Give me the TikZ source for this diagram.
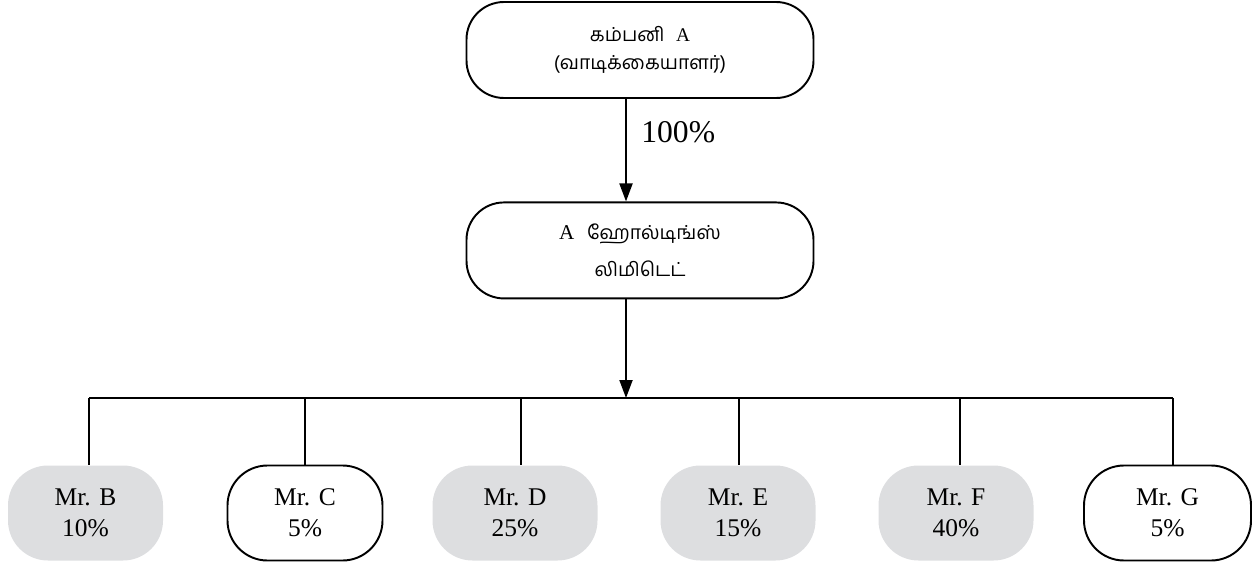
\documentclass[tikz,border=0pt]{standalone}
\usepackage{fontspec}
\setmainfont{Liberation Serif}
\newfontfamily\tamilfont[Script=Tamil]{Hind Madurai}
\usetikzlibrary{positioning}
\usetikzlibrary{arrows.meta}
\definecolor{sharegray}{RGB}{221,222,224}

\begin{document}
\begin{tikzpicture}
			[
				myblock/.style = {draw, rectangle, line width = 1.1pt, rounded corners = 0.75cm, minimum height = 1.92cm, minimum width = 6.94cm, align = center, font = \fontsize{11}{16}\selectfont},
				myholder/.style = {rectangle, rounded corners = 0.8cm, minimum height = 1.9cm, minimum width = 3.1cm, align = center, font = \fontsize{14.5}{17.6}\selectfont},
				mywhite/.style = {myholder, draw, line width = 1.1pt},
				mygray/.style = {myholder, fill = sharegray},
				myline/.style = {line width = 1.1pt},
				myarrow/.style = {myline, -{Triangle[width = 0.26cm, length = 0.36cm]}}
			]
			\useasboundingbox (0,0) rectangle (25.18,-11.32);
			%
			\node (company) [myblock] at (12.8,-1.0) {{\tamilfont கம்பனி}\hspace{0.6em}A\\{\tamilfont (வாடிக்கையாளர்)}};
			%
			\node (holding) [myblock, below = 2.05cm of company, font = \fontsize{12}{21}\selectfont] {A\hspace{0.6em}{\tamilfont\fontsize{11}{21}\selectfont ஹோல்டிங்ஸ்}\\{\tamilfont\fontsize{11}{21}\selectfont லிமிடெட்}};
			%
			\coordinate (junction) at (12.52,-7.96);
			\draw [myarrow] (company.south -| junction) -- (holding.north -| junction) node [pos = 0.32, right = 0.17cm, font = \fontsize{18}{22}\selectfont] {100\%};
			\draw [myarrow] (holding.south -| junction) -- (junction);
			%
			\node (mrB) [mygray] at (1.71,-10.26) {Mr. B\\10\%};
			\node (mrC) [mywhite] at (6.10,-10.26) {Mr. C\\5\%};
			\node (mrD) [mygray, minimum width = 3.3cm] at (10.30,-10.26) {Mr. D\\25\%};
			\node (mrE) [mygray] at (14.76,-10.26) {Mr. E\\15\%};
			\node (mrF) [mygray] at (19.12,-10.26) {Mr. F\\40\%};
			\node (mrG) [mywhite, minimum width = 3.34cm] at (23.35,-10.26) {Mr. G\\5\%};
			%
			\foreach \name/\x in {mrB/1.78, mrC/6.10, mrD/10.42, mrE/14.78, mrF/19.20, mrG/23.46}
			{
				\coordinate (top\name) at (\x,-7.96);
				\draw [myline] (top\name) -- (top\name |- \name.north);
			}
			\draw [myline] (topmrB) -- (topmrG);
			%
		\end{tikzpicture}
\end{document}
